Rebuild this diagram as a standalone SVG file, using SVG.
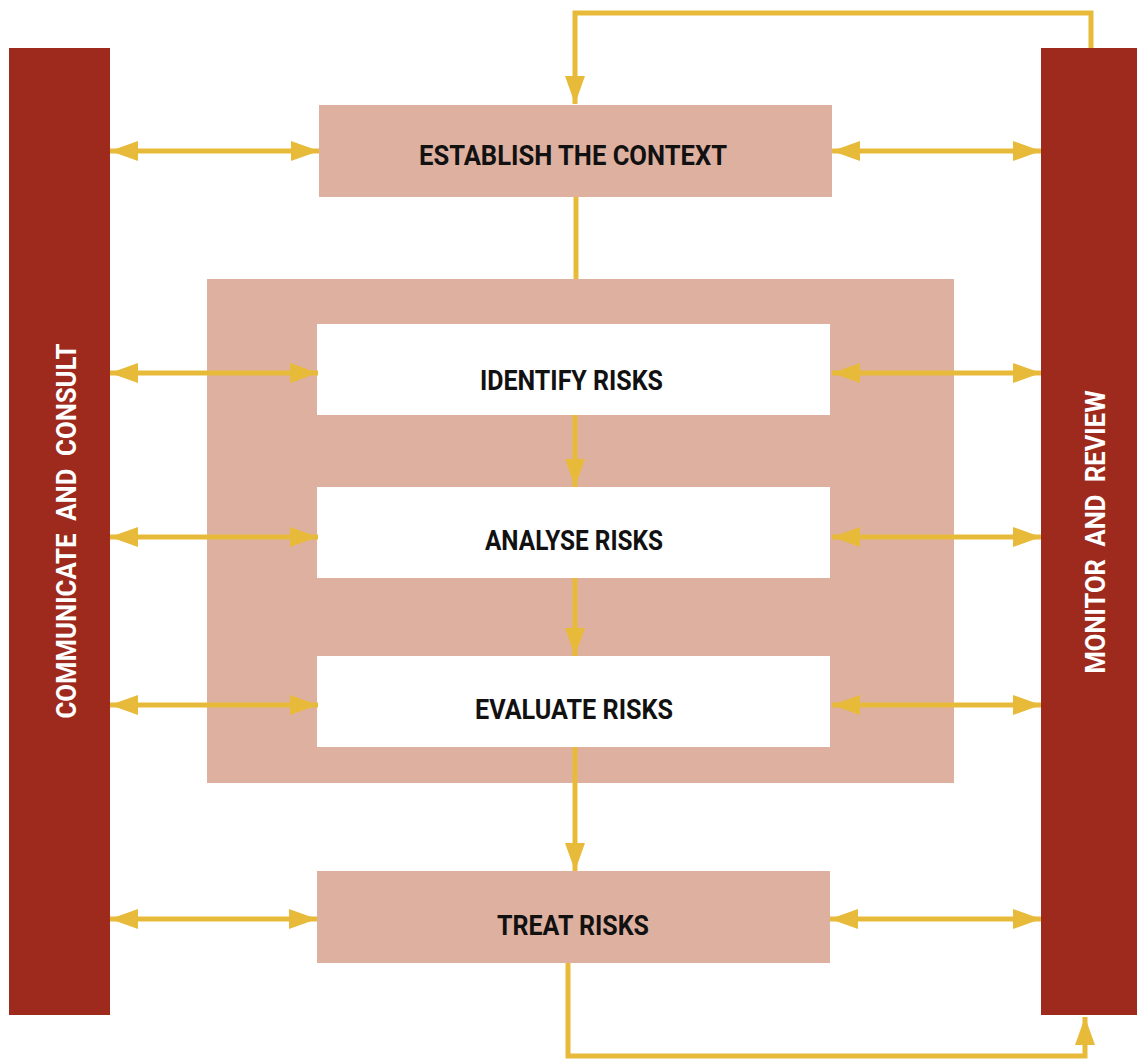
<svg xmlns="http://www.w3.org/2000/svg" width="1137" height="1059" viewBox="0 0 1137 1059">
<style>
.bar{fill:#9E2A1E}
.pink{fill:#DEB0A0}
.white{fill:#FFFFFF}
.lbl{font-family:Roboto,"Liberation Sans",sans-serif;font-weight:bold;font-size:28px;fill:#111111;text-anchor:middle}
.side{font-family:Roboto,"Liberation Sans",sans-serif;font-weight:bold;font-size:28px;fill:#FFFFFF;text-anchor:middle;white-space:pre}
.ln{stroke:#E8BA3A;stroke-width:5;fill:none}
.ah{fill:#E8BA3A}
</style>
<defs>
<marker id="aE" markerUnits="userSpaceOnUse" markerWidth="28" markerHeight="20" refX="28" refY="10" orient="auto"><path class="ah" d="M0,0 L28,10 L0,20 Z"/></marker>
<marker id="aS" markerUnits="userSpaceOnUse" markerWidth="28" markerHeight="20" refX="0" refY="10" orient="auto"><path class="ah" d="M28,0 L0,10 L28,20 Z"/></marker>
</defs>
<rect width="1137" height="1059" fill="#FFFFFF"/>
<g id="communicate">
<rect class="bar" x="9" y="48" width="101" height="967"/>
<text class="side" xml:space="preserve" transform="translate(76,531) rotate(-90)" textLength="375" lengthAdjust="spacingAndGlyphs">COMMUNICATE  AND  CONSULT</text>
</g>
<g id="monitor">
<rect class="bar" x="1041" y="48" width="96" height="967"/>
<text class="side" xml:space="preserve" transform="translate(1105,532) rotate(-90)" textLength="283" lengthAdjust="spacingAndGlyphs">MONITOR  AND  REVIEW</text>
</g>
<g id="assessment-frame">
<rect class="pink" x="207" y="279" width="747" height="504"/>
</g>
<g id="establish">
<rect class="pink" x="319" y="105" width="513" height="92"/>
<text class="lbl" x="573" y="165" textLength="308" lengthAdjust="spacingAndGlyphs">ESTABLISH THE CONTEXT</text>
</g>
<g id="identify">
<rect class="white" x="317" y="324" width="513" height="91"/>
<text class="lbl" x="571.5" y="390" textLength="183" lengthAdjust="spacingAndGlyphs">IDENTIFY RISKS</text>
</g>
<g id="analyse">
<rect class="white" x="317" y="487" width="513" height="91"/>
<text class="lbl" x="574" y="550" textLength="178" lengthAdjust="spacingAndGlyphs">ANALYSE RISKS</text>
</g>
<g id="evaluate">
<rect class="white" x="317" y="656" width="513" height="91"/>
<text class="lbl" x="574" y="719" textLength="198" lengthAdjust="spacingAndGlyphs">EVALUATE RISKS</text>
</g>
<g id="treat">
<rect class="pink" x="317" y="871" width="513" height="92"/>
<text class="lbl" x="573" y="935" textLength="152" lengthAdjust="spacingAndGlyphs">TREAT RISKS</text>
</g>
<g id="connectors">
<path class="ln" d="M1091,48 V13 H575 V104" marker-end="url(#aE)"/>
<path class="ln" d="M576,197 V279"/>
<path class="ln" d="M575,415 V487" marker-end="url(#aE)"/>
<path class="ln" d="M575,578 V656" marker-end="url(#aE)"/>
<path class="ln" d="M575,747 V871" marker-end="url(#aE)"/>
<path class="ln" d="M568,963 V1056 H1085 V1017" marker-end="url(#aE)"/>
<path class="ln" d="M110,151 H319" marker-start="url(#aS)" marker-end="url(#aE)"/>
<path class="ln" d="M832,151 H1041" marker-start="url(#aS)" marker-end="url(#aE)"/>
<path class="ln" d="M110,373 H318" marker-start="url(#aS)" marker-end="url(#aE)"/>
<path class="ln" d="M832,373 H1041" marker-start="url(#aS)" marker-end="url(#aE)"/>
<path class="ln" d="M110,537 H318" marker-start="url(#aS)" marker-end="url(#aE)"/>
<path class="ln" d="M832,537 H1041" marker-start="url(#aS)" marker-end="url(#aE)"/>
<path class="ln" d="M110,705 H318" marker-start="url(#aS)" marker-end="url(#aE)"/>
<path class="ln" d="M832,705 H1041" marker-start="url(#aS)" marker-end="url(#aE)"/>
<path class="ln" d="M110,919 H317" marker-start="url(#aS)" marker-end="url(#aE)"/>
<path class="ln" d="M830,919 H1041" marker-start="url(#aS)" marker-end="url(#aE)"/>
</g>
</svg>
